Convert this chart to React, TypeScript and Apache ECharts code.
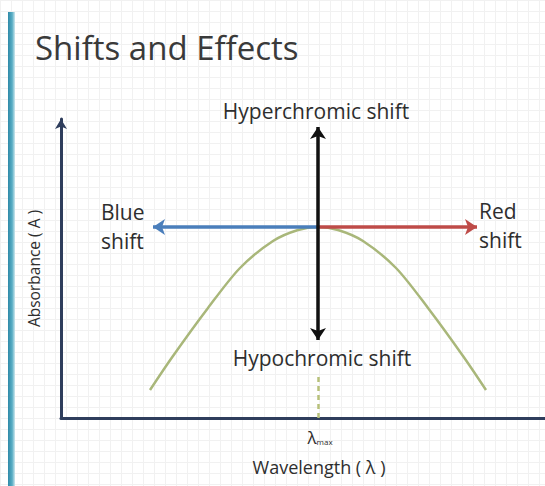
import React, { useEffect, useRef } from "react";
import * as echarts from "echarts";

// Absorption band (wavelength offset, absorbance)
const curveX = [89, 112, 147, 179, 212, 237, 257, 277, 302, 335, 367, 402, 425];
const curveY = [28, 62, 110, 150, 177, 188, 191, 188, 177, 150, 110, 62, 28];

// lambda max and the four shift arrows
const lambdaMax = 257;
const peakA = 191;
const blueShiftTo = 92;
const redShiftTo = 416;
const hyperTo = 291;
const hypoTo = 78;
const dashFrom = 41;

const titleText = "Shifts and Effects";
const yName = "Absorbance ( A )";
const xName = "Wavelength ( λ )";

const FONT = "'Open Sans', Lato, sans-serif";
const INK = "#2e2e2e";

export default function App() {
  const ref = useRef<HTMLDivElement>(null);
  useEffect(() => {
    if (!ref.current) return;
    const chart = echarts.init(ref.current, null, { renderer: "svg" });
    const labelStyle = { fill: INK, font: `21px ${FONT}`, textAlign: "center" as const, textVerticalAlign: "middle" as const };
    const leftLabel = { ...labelStyle, textAlign: "left" as const };
    chart.setOption({
      animation: false,
      backgroundColor: "#ffffff",
      grid: [
        { left: 0, right: 0, top: 0, bottom: 0 },
        { left: 61, right: 0, top: 119, bottom: 68 },
      ],
      xAxis: [
        {
          gridIndex: 0, type: "value", min: 0, max: 545, interval: 11,
          axisLine: { show: false }, axisTick: { show: false }, axisLabel: { show: false },
          splitLine: { show: true, lineStyle: { color: "#f1f1f1", width: 1 } },
        },
        {
          gridIndex: 1, type: "value", min: 0, max: 484,
          axisLine: { show: true, lineStyle: { color: "#2e3d5c", width: 3 } },
          axisTick: { show: false }, axisLabel: { show: false }, splitLine: { show: false },
        },
      ],
      yAxis: [
        {
          gridIndex: 0, type: "value", min: 0, max: 486, interval: 11, inverse: true,
          axisLine: { show: false }, axisTick: { show: false }, axisLabel: { show: false },
          splitLine: { show: true, lineStyle: { color: "#f1f1f1", width: 1 } },
        },
        {
          gridIndex: 1, type: "value", min: 0, max: 299,
          axisLine: {
            show: true, onZero: false,
            lineStyle: { color: "#2e3d5c", width: 3 },
            symbol: ["none", "arrow"], symbolSize: [9, 10],
          },
          axisTick: { show: false }, axisLabel: { show: false }, splitLine: { show: false },
          name: yName, nameLocation: "middle", nameRotate: 90, nameGap: 19,
          nameTextStyle: { color: INK, fontSize: 15.5, fontFamily: FONT },
        },
      ],
      series: [
        {
          type: "line", xAxisIndex: 1, yAxisIndex: 1, smooth: 0.3, showSymbol: false,
          data: curveX.map((x, i) => [x, curveY[i]]),
          lineStyle: { color: "#a9b77a", width: 2.5 },
          z: 2,
        },
        {
          type: "lines", coordinateSystem: "cartesian2d", xAxisIndex: 1, yAxisIndex: 1,
          symbol: ["none", "none"],
          lineStyle: { color: "#b7c07a", width: 2.5, type: [5, 4], opacity: 1 },
          data: [{ coords: [[lambdaMax, dashFrom], [lambdaMax, 0]] }],
          z: 2,
        },
        {
          type: "lines", coordinateSystem: "cartesian2d", xAxisIndex: 1, yAxisIndex: 1,
          symbol: ["none", "arrow"], symbolSize: 12,
          data: [
            { coords: [[lambdaMax, peakA], [blueShiftTo, peakA]], lineStyle: { color: "#4a7ebb", width: 3.5, opacity: 1 } },
            { coords: [[lambdaMax, peakA], [redShiftTo, peakA]], lineStyle: { color: "#be4b48", width: 3.5, opacity: 1 } },
          ],
          z: 3,
        },
        {
          type: "lines", coordinateSystem: "cartesian2d", xAxisIndex: 1, yAxisIndex: 1,
          symbol: ["arrow", "arrow"], symbolSize: 12,
          data: [{ coords: [[lambdaMax, hypoTo], [lambdaMax, hyperTo]] }],
          lineStyle: { color: "#111111", width: 3.5, opacity: 1 },
          z: 4,
        },
      ],
      graphic: [
        {
          type: "rect", left: 8, top: 12, z: 100, shape: { width: 7, height: 474 },
          style: {
            fill: new echarts.graphic.LinearGradient(0, 0, 1, 0, [
              { offset: 0, color: "#2f8aa8" },
              { offset: 0.6, color: "#5aaec5" },
              { offset: 1, color: "#cfe8ee" },
            ]),
          },
        },
        { type: "text", z: 100, x: 35, y: 47, style: { text: titleText, fill: "#3a3a3a", font: `33px ${FONT}`, textVerticalAlign: "middle" } },
        { type: "text", z: 100, x: 316, y: 111, style: { ...labelStyle, text: "Hyperchromic shift" } },
        { type: "text", z: 100, x: 322, y: 358, style: { ...labelStyle, text: "Hypochromic shift" } },
        { type: "text", z: 100, x: 101, y: 212, style: { ...leftLabel, text: "Blue" } },
        { type: "text", z: 100, x: 101, y: 241, style: { ...leftLabel, text: "shift" } },
        { type: "text", z: 100, x: 479, y: 211, style: { ...leftLabel, text: "Red" } },
        { type: "text", z: 100, x: 479, y: 240, style: { ...leftLabel, text: "shift" } },
        {
          type: "text", z: 100, x: 320, y: 437,
          style: {
            text: "{l|λ}{s|max}", textAlign: "center", textVerticalAlign: "middle",
            rich: {
              l: { fontSize: 17, fontFamily: FONT, fill: INK, color: INK },
              s: { fontSize: 8, fontFamily: FONT, fill: INK, color: INK, padding: [9, 0, 0, 0] },
            },
          },
        },
        { type: "text", z: 100, x: 319, y: 467, style: { ...labelStyle, font: `18px ${FONT}`, text: xName } },
      ],
    });
    return () => chart.dispose();
  }, []);
  return <div ref={ref} style={{ position: "absolute", left: 0, top: 0, width: 545, height: 486 }} />;
}
